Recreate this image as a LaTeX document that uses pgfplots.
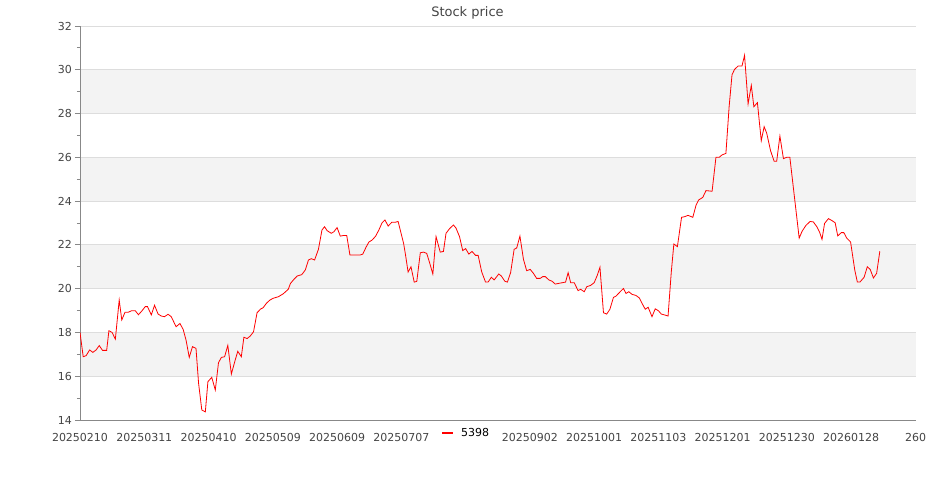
\documentclass[border=0pt]{standalone}
\usepackage{pgfplots}
\pgfplotsset{compat=1.18}
\usepackage{pgfplotstable}
\usepackage{fontspec}
\setmainfont{DejaVu Sans}
\definecolor{bandgray}{HTML}{F3F3F3}
\definecolor{gridgray}{HTML}{DDDDDD}
\definecolor{axisgray}{HTML}{888888}
\definecolor{labelgray}{HTML}{444444}
\pgfplotstableread{
x y
0 18.0
1 16.89
1.9 16.94
3 17.2
4 17.09
5 17.2
6 17.4
7 17.18
8.3 17.18
9 18.08
10 18.0
11 17.69
12.2 19.48
13 18.57
14 18.92
15 18.92
16 18.99
17.2 18.99
18.2 18.81
19.3 18.99
20.3 19.18
21 19.18
22.2 18.8
23.2 19.24
24.3 18.84
25.3 18.75
26.3 18.72
27.4 18.83
28.4 18.72
29.9 18.26
31.1 18.41
32.1 18.14
33 17.65
34 16.86
35 17.35
36.1 17.27
36.9 15.68
37.9 14.46
39 14.37
39.8 15.75
41 15.95
42.1 15.37
43.1 16.62
44 16.86
45 16.89
46 17.41
47.1 16.1
48.3 16.74
49.1 17.14
50.2 16.89
51 17.78
52 17.72
53 17.84
54 18.03
55.1 18.9
56.2 19.07
57 19.13
58 19.33
59.1 19.48
60.1 19.56
61.7 19.63
63.2 19.76
64.8 19.97
65.5 20.24
66.6 20.43
67.6 20.58
69 20.64
70.1 20.85
71.1 21.31
72 21.37
73 21.31
74.2 21.8
75.3 22.68
76.1 22.83
76.9 22.65
78.2 22.53
79 22.6
80 22.79
81 22.4
82 22.43
83 22.43
84 21.54
85 21.54
86.1 21.54
87.2 21.54
88 21.58
89 21.89
89.9 22.13
90.9 22.22
92 22.4
93 22.68
94 23.01
94.9 23.14
95.9 22.86
97 23.03
98 23.03
99 23.07
100.7 22.07
101.3 21.54
102.1 20.76
103 21.0
104 20.3
104.8 20.33
105.9 21.64
106.9 21.67
107.9 21.61
108.7 21.23
109.8 20.67
110.8 22.38
112.1 21.67
113.1 21.7
113.9 22.53
115 22.74
116.2 22.91
117 22.77
118.1 22.38
119.1 21.74
120 21.83
121 21.58
122 21.7
123.1 21.52
123.9 21.52
125 20.77
126.2 20.3
127 20.3
128 20.52
128.9 20.4
130.3 20.67
131.1 20.58
132.2 20.34
133 20.3
134 20.73
135.1 21.8
135.9 21.86
136.9 22.4
138 21.34
139 20.82
140.1 20.88
141.1 20.7
142.1 20.47
143.2 20.47
144 20.55
144.8 20.55
145.9 20.4
146.9 20.34
147.9 20.21
148.9 20.24
150 20.27
151.1 20.3
151.9 20.73
152.7 20.27
153.8 20.27
155 19.91
155.8 19.97
156.9 19.86
157.7 20.09
158.9 20.15
160 20.27
161 20.62
161.8 20.98
162.9 18.9
163.9 18.84
164.9 19.06
166 19.6
166.8 19.66
168.1 19.86
169.1 20.01
169.9 19.78
170.8 19.86
171.8 19.74
173 19.69
174.1 19.57
174.9 19.33
175.9 19.06
176.8 19.15
178 18.72
179 19.08
180 18.99
180.9 18.84
181.9 18.8
183 18.75
184 20.76
184.8 22.04
185.9 21.92
187.2 23.26
188.2 23.29
189.2 23.35
190.7 23.26
191.7 23.81
192.5 24.05
193.8 24.17
194.8 24.48
196.7 24.45
197.9 26.0
198.9 26.0
199.8 26.11
201 26.18
202 28.31
202.9 29.77
203.7 30.02
204.8 30.17
206 30.17
206.8 30.66
207.9 28.44
208.9 29.29
209.7 28.31
210.8 28.5
212 26.76
212.9 27.4
213.7 27.1
214.9 26.3
216 25.82
216.8 25.82
217.8 26.97
218.9 25.94
219.9 26.0
220.9 26.0
223.8 22.31
224.7 22.62
225.9 22.89
227.2 23.07
228.2 23.05
229.3 22.83
230.1 22.6
230.9 22.25
231.7 22.98
232.9 23.2
234 23.11
235 23.01
235.8 22.41
236.9 22.56
237.7 22.56
238.6 22.31
239.8 22.13
241.1 20.85
241.9 20.3
242.7 20.3
244 20.52
245 21.0
245.9 20.88
246.9 20.49
247.9 20.7
248.9 21.71
}\pricedata
\begin{document}
\begin{tikzpicture}
\begin{axis}[
  at={(0,0)}, anchor=south west,
  scale only axis, width=835.5bp, height=394bp,
  set layers=standard,
  xmin=0, xmax=260, ymin=14, ymax=32,
  axis lines*=left,
  axis line style={draw=axisgray, line width=0.8bp},
  xtick={0,20,...,260},
  xticklabels={20250210,20250311,20250410,20250509,20250609,20250707,,20250902,20251001,20251103,20251201,20251230,20260128,260},
  xtick style={draw=none},
  ytick={14,16,...,32},
  minor ytick={15,17,...,31},
  tick align=outside,
  major tick length=5bp, minor tick length=3bp,
  ytick style={draw=axisgray, line width=0.8bp},
  minor tick style={draw=axisgray, line width=0.8bp},
  ymajorgrids, major grid style={draw=gridgray, line width=0.8bp},
  tick label style={font=\fontsize{11bp}{13bp}\selectfont, text=labelgray},
  yticklabel style={anchor=east, inner sep=0pt, xshift=-3bp},
  xticklabel style={anchor=north, inner sep=0pt, yshift=-8bp},
  /pgf/number format/assume math mode=true,
  legend style={at={(0.4625,0)}, anchor=center, yshift=-13bp, draw=none, fill=white,
    font=\fontsize{11bp}{13bp}\selectfont, inner sep=1bp,
    /tikz/every odd column/.append style={column sep=5bp}},
  legend image code/.code={\draw[red, line width=1.6bp] (0bp,0bp) -- (11bp,0bp);},
]
\addplot[draw=none, fill=bandgray, on layer=axis background, forget plot] coordinates {(0,16) (260,16) (260,18) (0,18)};
\addplot[draw=none, fill=bandgray, on layer=axis background, forget plot] coordinates {(0,20) (260,20) (260,22) (0,22)};
\addplot[draw=none, fill=bandgray, on layer=axis background, forget plot] coordinates {(0,24) (260,24) (260,26) (0,26)};
\addplot[draw=none, fill=bandgray, on layer=axis background, forget plot] coordinates {(0,28) (260,28) (260,30) (0,30)};
\addplot[red, line width=0.8bp, mark=none] table[x=x, y=y] {\pricedata};
\addlegendentry{5398}
\end{axis}
\node[font=\fontsize{13bp}{15bp}\selectfont, text=labelgray] at (387.5bp,407bp) {Stock price};
\path (-80bp,-80bp) rectangle (855bp,420bp);
\end{tikzpicture}
\end{document}
